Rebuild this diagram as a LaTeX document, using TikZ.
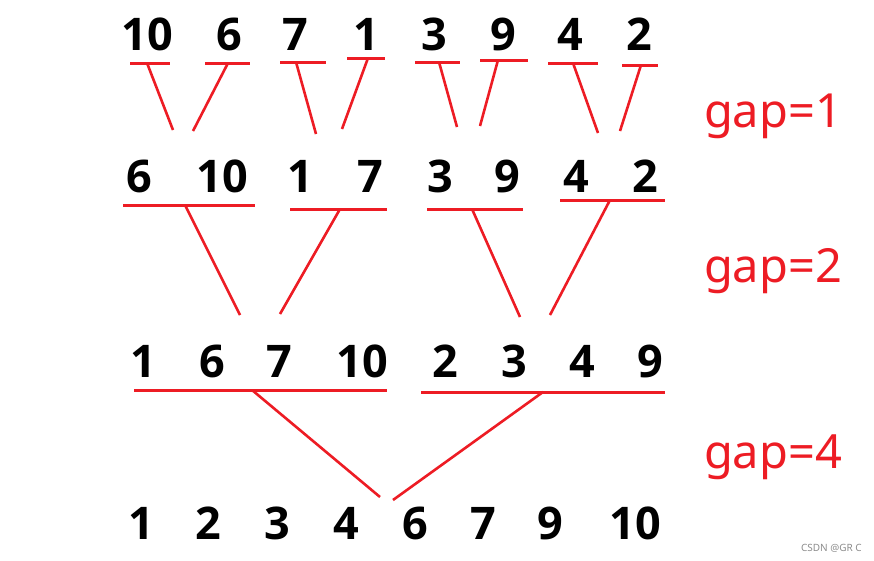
\documentclass[tikz,border=0pt]{standalone}
\usepackage{fontspec}
\setmainfont{Noto Sans}
\newfontfamily\numfont{Open Sans}
\definecolor{pred}{HTML}{ED1C24}
\begin{document}
\begin{tikzpicture}[x=1pt,y=-1pt,
  num/.style={anchor=base,inner sep=0pt,font=\numfont\fontsize{45}{50}\selectfont\bfseries},
  gaplbl/.style={anchor=base,inner sep=0pt,text=pred,font=\fontsize{47}{50}\selectfont},
  bar/.style={draw=pred,line width=3pt},
  link/.style={draw=pred,line width=2.6pt}]
\useasboundingbox (0,0) rectangle (874,560);
% row 1
\foreach \v/\x [count=\i] in {10/147,6/229,7/295,1/366,3/434,9/503,4/570,2/639}
  \node[num] (a\i) at (\x,50) {\v};
% row 2
\foreach \v/\x [count=\i] in {6/139,10/222,1/300,7/370,3/440,9/507,4/576,2/645}
  \node[num] (b\i) at (\x,192) {\v};
% row 3
\foreach \v/\x [count=\i] in {1/143,6/212,7/279,10/362,2/445,3/514,4/582,9/650}
  \node[num] (c\i) at (\x,377) {\v};
% row 4
\foreach \v/\x [count=\i] in {1/141,2/208,3/277,4/346,6/415,7/483,9/550,10/635}
  \node[num] (d\i) at (\x,539) {\v};
% gap labels
\node[gaplbl] (g1) at (773,127) {gap=1};
\node[gaplbl] (g2) at (773,282) {gap=2};
\node[gaplbl] (g4) at (773,468) {gap=4};
\node[anchor=base east,inner sep=0pt,text=black!45,font=\fontsize{10}{12}\selectfont] (wm) at (862,551) {CSDN @GR C};
% row 1 bars and links
\foreach \i/\y/\xa/\xb/\xt/\xe/\ye in {1/63/130/170/147/173/130, 2/63/205/250/228/193/131, 3/62/280/326/296/316/134, 4/58/347/385/368/342/129, 5/62/415/460/439/457/127, 6/60/480/528/498/480/126, 7/63/548/598/573/598/133, 8/65/622/658/641/620/131}{
  \coordinate (ul\i) at (\xa,\y);
  \coordinate (ur\i) at (\xb,\y);
  \coordinate (ut\i) at (\xt,\y);
  \coordinate (ue\i) at (\xe,\ye);
  \draw[bar] (ul\i) -- (ur\i);
  \draw[link] (ut\i) -- (ue\i);
}
% row 2 bars and links
\foreach \i/\y/\xa/\xb/\xt/\xe/\ye in {1/205/123/255/185/240/315, 2/209/290/387/340/280/314, 3/209/427/523/472/520/317, 4/200/560/665/610/550/315}{
  \coordinate (vl\i) at (\xa,\y);
  \coordinate (vr\i) at (\xb,\y);
  \coordinate (vt\i) at (\xt,\y);
  \coordinate (ve\i) at (\xe,\ye);
  \draw[bar] (vl\i) -- (vr\i);
  \draw[link] (vt\i) -- (ve\i);
}
% row 3 bars and links
\foreach \i/\y/\xa/\xb/\xt/\xe/\ye in {1/390/134/387/252/380/497, 2/392/421/665/543/393/500}{
  \coordinate (wl\i) at (\xa,\y);
  \coordinate (wr\i) at (\xb,\y);
  \coordinate (wt\i) at (\xt,\y);
  \coordinate (we\i) at (\xe,\ye);
  \draw[bar] (wl\i) -- (wr\i);
  \draw[link] (wt\i) -- (we\i);
}
\end{tikzpicture}
\end{document}
